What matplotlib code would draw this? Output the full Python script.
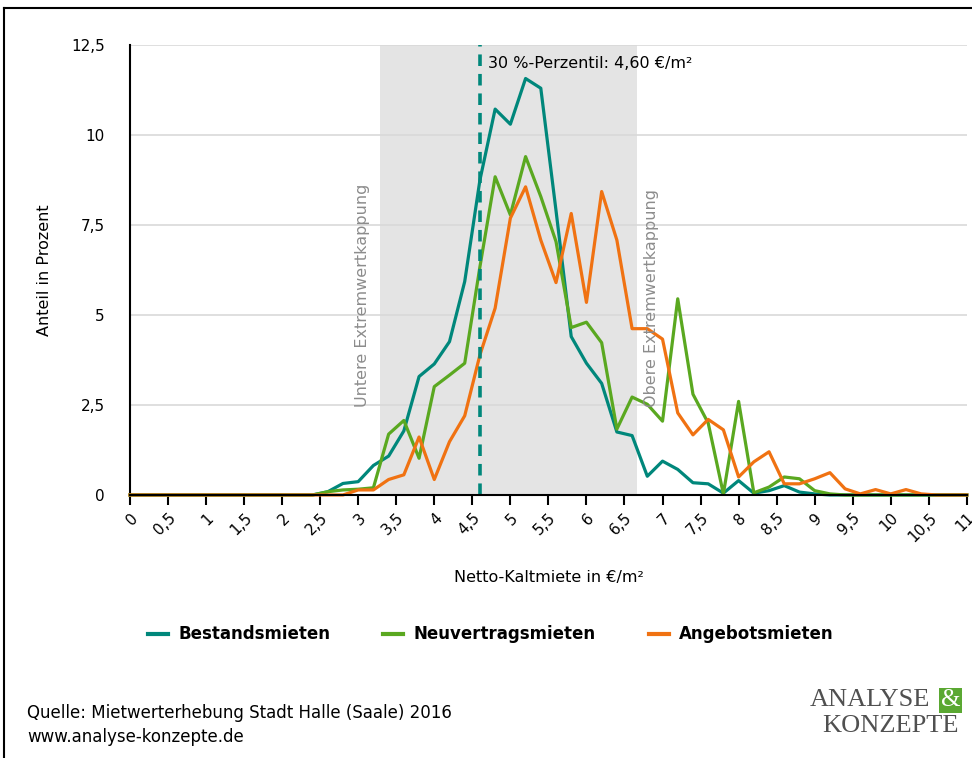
import numpy as np
import matplotlib
matplotlib.use('Agg')
import matplotlib.pyplot as plt
from matplotlib.lines import Line2D

plt.rcParams['font.family'] = ['DejaVu Sans']

# rent classes in EUR/m2 (0.2 steps)
rent = np.round(np.arange(0, 11.01, 0.2), 1)

bestand = [0] * 12 + [
    0, 0.09, 0.32, 0.37, 0.82, 1.08, 1.78, 3.29, 3.64, 4.26,
    5.93, 8.75, 10.72, 10.3, 11.57, 11.3, 7.9, 4.4, 3.66, 3.1,
    1.75, 1.65, 0.52, 0.94, 0.71, 0.34, 0.31, 0.05, 0.40, 0.05,
    0.12, 0.26, 0.08, 0.03] + [0] * 10

neuvertrag = [0] * 13 + [
    0.09, 0.14, 0.16, 0.2, 1.69, 2.07, 1.02, 3.01, 3.33, 3.66,
    6.34, 8.84, 7.78, 9.4, 8.29, 7.04, 4.65, 4.8, 4.23, 1.83,
    2.72, 2.52, 2.05, 5.45, 2.8, 2.0, 0.03, 2.6, 0.06, 0.22,
    0.5, 0.45, 0.12, 0.03] + [0] * 9

angebot = [0] * 15 + [
    0.14, 0.14, 0.43, 0.56, 1.61, 0.43, 1.48, 2.2, 3.89, 5.19,
    7.69, 8.56, 7.08, 5.9, 7.82, 5.35, 8.43, 7.08, 4.62, 4.62,
    4.33, 2.28, 1.67, 2.1, 1.81, 0.5, 0.92, 1.2, 0.31, 0.31,
    0.45, 0.62, 0.17, 0.03, 0.15, 0.03, 0.15, 0.03] + [0] * 3

series_names = ['Bestandsmieten', 'Neuvertragsmieten', 'Angebotsmieten']
colors = ['#00877b', '#5aa820', '#f07212']

x_ticks = np.arange(0, 11.01, 0.5)
x_ticklabels = ['0', '0,5', '1', '1,5', '2', '2,5', '3', '3,5', '4', '4,5', '5', '5,5',
                '6', '6,5', '7', '7,5', '8', '8,5', '9', '9,5', '10', '10,5', '11']
y_ticks = [0, 2.5, 5, 7.5, 10, 12.5]
y_ticklabels = ['0', '2,5', '5', '7,5', '10', '12,5']

cap_low, cap_high = 3.28, 6.66
perzentil = 4.6

fig = plt.figure(figsize=(9.72, 7.58), dpi=100)
ax = fig.add_axes([0.1337, 0.347, 0.861, 0.5936])

ax.axvspan(cap_low, cap_high, color='#e4e4e4', zorder=0, lw=0)
for y in y_ticks[1:]:
    ax.axhline(y, color='#d9d9d9', lw=1.2, zorder=0.5)

for vals, name, c in zip([bestand, neuvertrag, angebot], series_names, colors):
    ax.plot(rent, vals, color=c, lw=2.3, label=name, clip_on=False, zorder=3)

ax.plot([perzentil, perzentil], [0, 12.5], color='#00877b', lw=2.6,
        dashes=(3.2, 2.2), zorder=4)
ax.text(perzentil + 0.1, 12.0, '30 %-Perzentil: 4,60 €/m²', fontsize=11.5,
        ha='left', va='center', color='black')

ax.text(3.05, 2.44, 'Untere Extremwertkappung', rotation=90, fontsize=11.5,
        color='#8c8c8c', ha='center', va='bottom')
ax.text(6.86, 2.44, 'Obere Extremwertkappung', rotation=90, fontsize=11.5,
        color='#8c8c8c', ha='center', va='bottom')

ax.set_xlim(0, 11)
ax.set_ylim(0, 12.5)
ax.set_xticks(x_ticks)
ax.set_xticklabels(x_ticklabels, rotation=45, ha='right', rotation_mode='anchor',
                   fontsize=11)
ax.set_yticks(y_ticks)
ax.set_yticklabels(y_ticklabels, fontsize=11)
ax.tick_params(axis='x', length=7, width=1.5, direction='out', pad=4)
ax.tick_params(axis='y', length=0, pad=18)
for s in ['top', 'right']:
    ax.spines[s].set_visible(False)
ax.spines['left'].set_linewidth(1.5)
ax.spines['bottom'].set_linewidth(1.5)
ax.spines['bottom'].set_zorder(5)

ax.set_xlabel('Netto-Kaltmiete in €/m²', fontsize=11.5, labelpad=18)
ax.set_ylabel('Anteil in Prozent', fontsize=11.5, labelpad=14)

handles = [Line2D([0], [0], color=c, lw=3) for c in colors]
fig.legend(handles, series_names, loc='center', bbox_to_anchor=(0.505, 0.163),
           ncol=3, frameon=False, handlelength=1.2, handletextpad=0.6,
           columnspacing=3.2, prop={'weight': 'bold', 'size': 12})

fig.text(0.028, 0.06, 'Quelle: Mietwerterhebung Stadt Halle (Saale) 2016',
         fontsize=12, ha='left', va='center')
fig.text(0.028, 0.028, 'www.analyse-konzepte.de', fontsize=12, ha='left', va='center')

# logo
fig.text(0.957, 0.076, 'ANALYSE', family='Liberation Serif', fontsize=19,
         color='#505050', ha='right', va='center')
fig.text(0.978, 0.076, '&', family='Liberation Serif', fontsize=18, color='white',
         ha='center', va='center',
         bbox=dict(boxstyle='square,pad=0.06', fc='#5aa832', ec='none'))
fig.text(0.986, 0.042, 'KONZEPTE', family='Liberation Serif', fontsize=19,
         color='#505050', ha='right', va='center')

# outer frame (top and left)
fig.add_artist(Line2D([0.004, 1], [0.9894, 0.9894], color='black', lw=1.5,
                      transform=fig.transFigure))
fig.add_artist(Line2D([0.004, 0.004], [0, 0.9894], color='black', lw=1.5,
                      transform=fig.transFigure))

fig.savefig('out.png', dpi=100)
